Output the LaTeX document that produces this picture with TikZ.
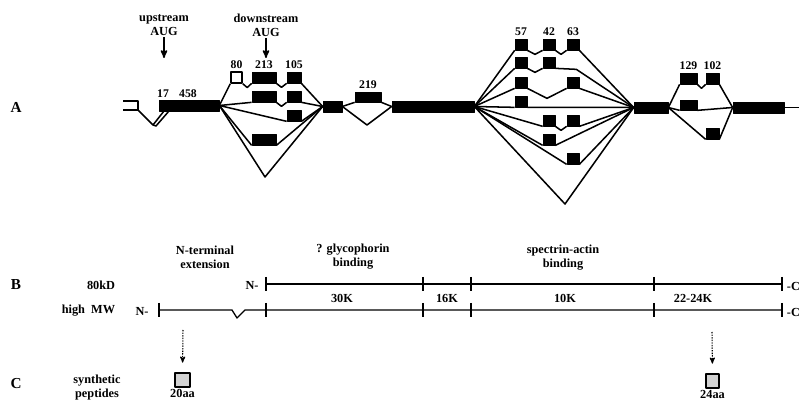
\documentclass[tikz,border=0pt]{standalone}
\usepackage{fontspec}
\setmainfont{Liberation Serif}
\usetikzlibrary{arrows,positioning,calc,fit}

\tikzset{
  exon/.style={draw,fill=black,inner sep=0pt,line width=0.6pt},
  openexon/.style={exon,fill=white,line width=1.3pt},
  num/.style={inner sep=1pt,font=\bfseries\fontsize{10}{11}\selectfont},
  lbl/.style={align=center,inner sep=1pt,font=\bfseries\fontsize{10.5}{12}\selectfont},
  part/.style={font=\bfseries\fontsize{13}{14}\selectfont},
  dip/.style={to path={-- ($(\tikztostart)!.5!(\tikztotarget)+(0,#1)$) -- (\tikztotarget)}},
  dip/.default=4,
  aug/.style={->,line width=1.3pt},
  protein/.style={line width=1.1pt},
  pep/.style={draw,fill=gray!35,line width=1.5pt,inner sep=0pt},
  peparrow/.style={->,dash pattern=on 1.2pt off 1pt,line width=0.9pt,shorten >=8pt}
}

\begin{document}
\begin{tikzpicture}
[x=0.03cm,y=-0.03cm,>=stealth',line width=1.3pt,line join=round]
\useasboundingbox (0,0) rectangle (799,404);
\clip (0,0) rectangle (799,404);

% A: exons
\node[part] (pA) at (16,107) {A};
\draw (123,101) -| (138,110) -- (123,110);
\draw (138,110) -- (153,125) -- (164,111);
\draw (153,125) -- (156,126) -- (169,111);
\node[exon,fit={(159,100) (219,111)}] (E1) {};
\node[num] (n17) at (163,94) {17};
\node[num] (n458) at (188,94) {458};
\node[exon,fit={(323,101) (342,112)}] (E2) {};
\node[exon,fit={(392,101) (474,112)}] (E3) {};
\node[exon,fit={(634,102) (668,113)}] (E4) {};
\node[exon,fit={(733,102) (784,113)}] (E5) {};
\coordinate (tail) at (800,107.5);
\draw (E5.east) -- (tail);

% AUG arrows
\node[lbl] (upAUG) at (164,25) {upstream\\AUG};
\node[lbl] (downAUG) at (266,25) {downstream\\AUG};
\coordinate (upTip) at (164,58);
\coordinate (downTip) at (266,58);
\draw[aug] (upAUG.south) -- (upTip);
\draw[aug] (downAUG.south) -- (downTip);

% first alternative cluster
\node[openexon,fit={(231,72) (242,83)}] (e80) {};
\node[exon,fit={(252,72) (276,83)}] (e213a) {};
\node[exon,fit={(287,72) (301,83)}] (e105a) {};
\node[exon,fit={(252,91) (276,102)}] (e213b) {};
\node[exon,fit={(287,91) (301,102)}] (e105b) {};
\node[exon,fit={(287,110) (301,121)}] (e105c) {};
\node[exon,fit={(252,134) (276,145)}] (e213d) {};
\node[num] (n80) [above=1pt of e80] {80};
\node[num] (n213) [above=1pt of e213a] {213};
\node[num] (n105) [above=1pt of e105a] {105};
\coordinate (v1) at (265,177);
\draw (E1.east) -- (e80.south west);
\draw (e80.south east) to[dip] (e213a.south west);
\draw (e213a.south east) to[dip] (e105a.south west);
\draw (e105a.south east) -- (E2.west);
\draw (E1.east) -- (e213b.south west);
\draw (e213b.south east) to[dip] (e105b.south west);
\draw (e105b.south east) -- (E2.west);
\draw (E1.east) -- (e105c.south west);
\draw (e105c.south east) -- (E2.west);
\draw (E1.east) -- (e213d.south west);
\draw (e213d.south east) -- (E2.west);
\draw (E1.east) -- (v1) -- (E2.west);

% exon 219
\node[exon,fit={(355,92) (381,102)}] (e219) {};
\node[num] (n219) [above=1pt of e219] {219};
\coordinate (v2) at (367,125);
\draw (E2.east) -- (e219.south west);
\draw (e219.south east) -- (E3.west);
\draw (E2.east) -- (v2) -- (E3.west);

% second alternative cluster
\foreach \r/\c/\xa/\y in {1/a/515/39,1/b/543/39,1/c/567/39,
                          2/a/515/57,2/b/543/57,
                          3/a/515/77,3/c/567/77,
                          4/a/515/96,
                          5/b/543/115,5/c/567/115,
                          6/b/543/134,
                          7/c/567/153}
  \node[exon,fit={(\xa,\y) ({\xa+12},{\y+11})}] (s\r\c) {};
\node[num] (n57) [above=1pt of s1a] {57};
\node[num] (n42) [above=1pt of s1b] {42};
\node[num] (n63) [above=1pt of s1c] {63};
\coordinate (v3) at (565,204);
\draw (E3.east) -- (s1a.south west);
\draw (s1a.south east) to[dip] (s1b.south west);
\draw (s1b.south east) to[dip] (s1c.south west);
\draw (s1c.south east) -- (E4.west);
\draw (E3.east) -- (s2a.south west);
\draw (s2a.south east) to[dip] (s2b.south west);
\draw (s2b.south east) -- ++(21,1) -- (E4.west);
\draw (E3.east) -- (s3a.south west);
\draw (s3a.south east) to[dip=10] (s3c.south west);
\draw (s3c.south east) -- (E4.west);
\draw (E3.east) -- (s4a.south west);
\draw (s4a.south east) -- (E4.west);
\draw (E3.east) -- (s5b.south west);
\draw (s5b.south east) to[dip] (s5c.south west);
\draw (s5c.south east) -- (E4.west);
\draw (E3.east) -- (s6b.south west);
\draw (s6b.south east) -- (E4.west);
\draw (E3.east) -- (s7c.south west);
\draw (s7c.south east) -- (E4.west);
\draw (E3.east) -- (v3) -- (E4.west);

% third alternative cluster
\node[exon,fit={(680,73) (697,84)}] (t129a) {};
\node[exon,fit={(706,73) (719,84)}] (t102a) {};
\node[exon,fit={(680,100) (697,110)}] (t129b) {};
\node[exon,fit={(706,128) (719,139)}] (t102c) {};
\node[num] (n129) [above=1pt of t129a] {129};
\node[num] (n102) [above=1pt of t102a] {102};
\draw (E4.east) -- (t129a.south west);
\draw (t129a.south east) to[dip] (t102a.south west);
\draw (t102a.south east) -- (E5.west);
\draw (E4.east) -- (t129b.south west);
\draw (t129b.south east) -- (E5.west);
\draw (E4.east) -- (t102c.south west);
\draw (t102c.south east) -- (E5.west);

% B: protein
\node[part] (pB) at (16,285) {B};
\node[lbl,anchor=east] (kD) at (117,285) {80kD};
\node[lbl,anchor=east] (hiMW) at (117,311) {high\ \ MW};
\node[lbl] (nUp) at (252,285) {N-};
\node[lbl] (nLow) at (142,311) {N-};
\node[lbl,anchor=west] (cUp) at (785,286) {-C};
\node[lbl,anchor=west] (cLow) at (785,312) {-C};
\foreach \n/\x in {0/266,1/423,2/471,3/654,4/782}
  \coordinate (u\n) at (\x,284);
\foreach \n/\x in {0/159,1/266,2/423,3/471,4/654,5/782}
  \coordinate (w\n) at (\x,310);
\draw[protein] (u0) -- (u4);
\draw[protein] (w0) -- (232,310) -- (237,318) -- (245,310) -- (w5);
\foreach \n in {0,...,4}
  \draw[protein] ([yshift=6pt]u\n) -- ([yshift=-6pt]u\n);
\foreach \n in {0,...,5}
  \draw[protein] ([yshift=6pt]w\n) -- ([yshift=-6pt]w\n);
\node[lbl] (nterm) at (205,257) {N-terminal\\extension};
\node[lbl] (glyco) at (353,257) {? glycophorin\\binding};
\node[lbl] (spec) at (563,258) {spectrin-actin\\binding};
\node[lbl] (k30) at (342,298) {30K};
\node[lbl] (k16) at (447,298) {16K};
\node[lbl] (k10) at (565,298) {10K};
\node[lbl] (k22) at (693,298) {22-24K};

% C: peptides
\node[part] (pC) at (16,384) {C};
\node[lbl] (synth) at (97,388) {synthetic\\peptides};
\node[pep,fit={(175,373) (190,387)}] (p20) {};
\node[pep,fit={(706,374) (719,388)}] (p24) {};
\coordinate (a20) at (183,330);
\coordinate (a24) at (712,332);
\draw[peparrow] (a20) -- (p20.north);
\draw[peparrow] (a24) -- (p24.north);
\node[lbl,anchor=north] (l20) at (p20.south) {20aa};
\node[lbl,anchor=north] (l24) at (p24.south) {24aa};
\end{tikzpicture}
\end{document}
